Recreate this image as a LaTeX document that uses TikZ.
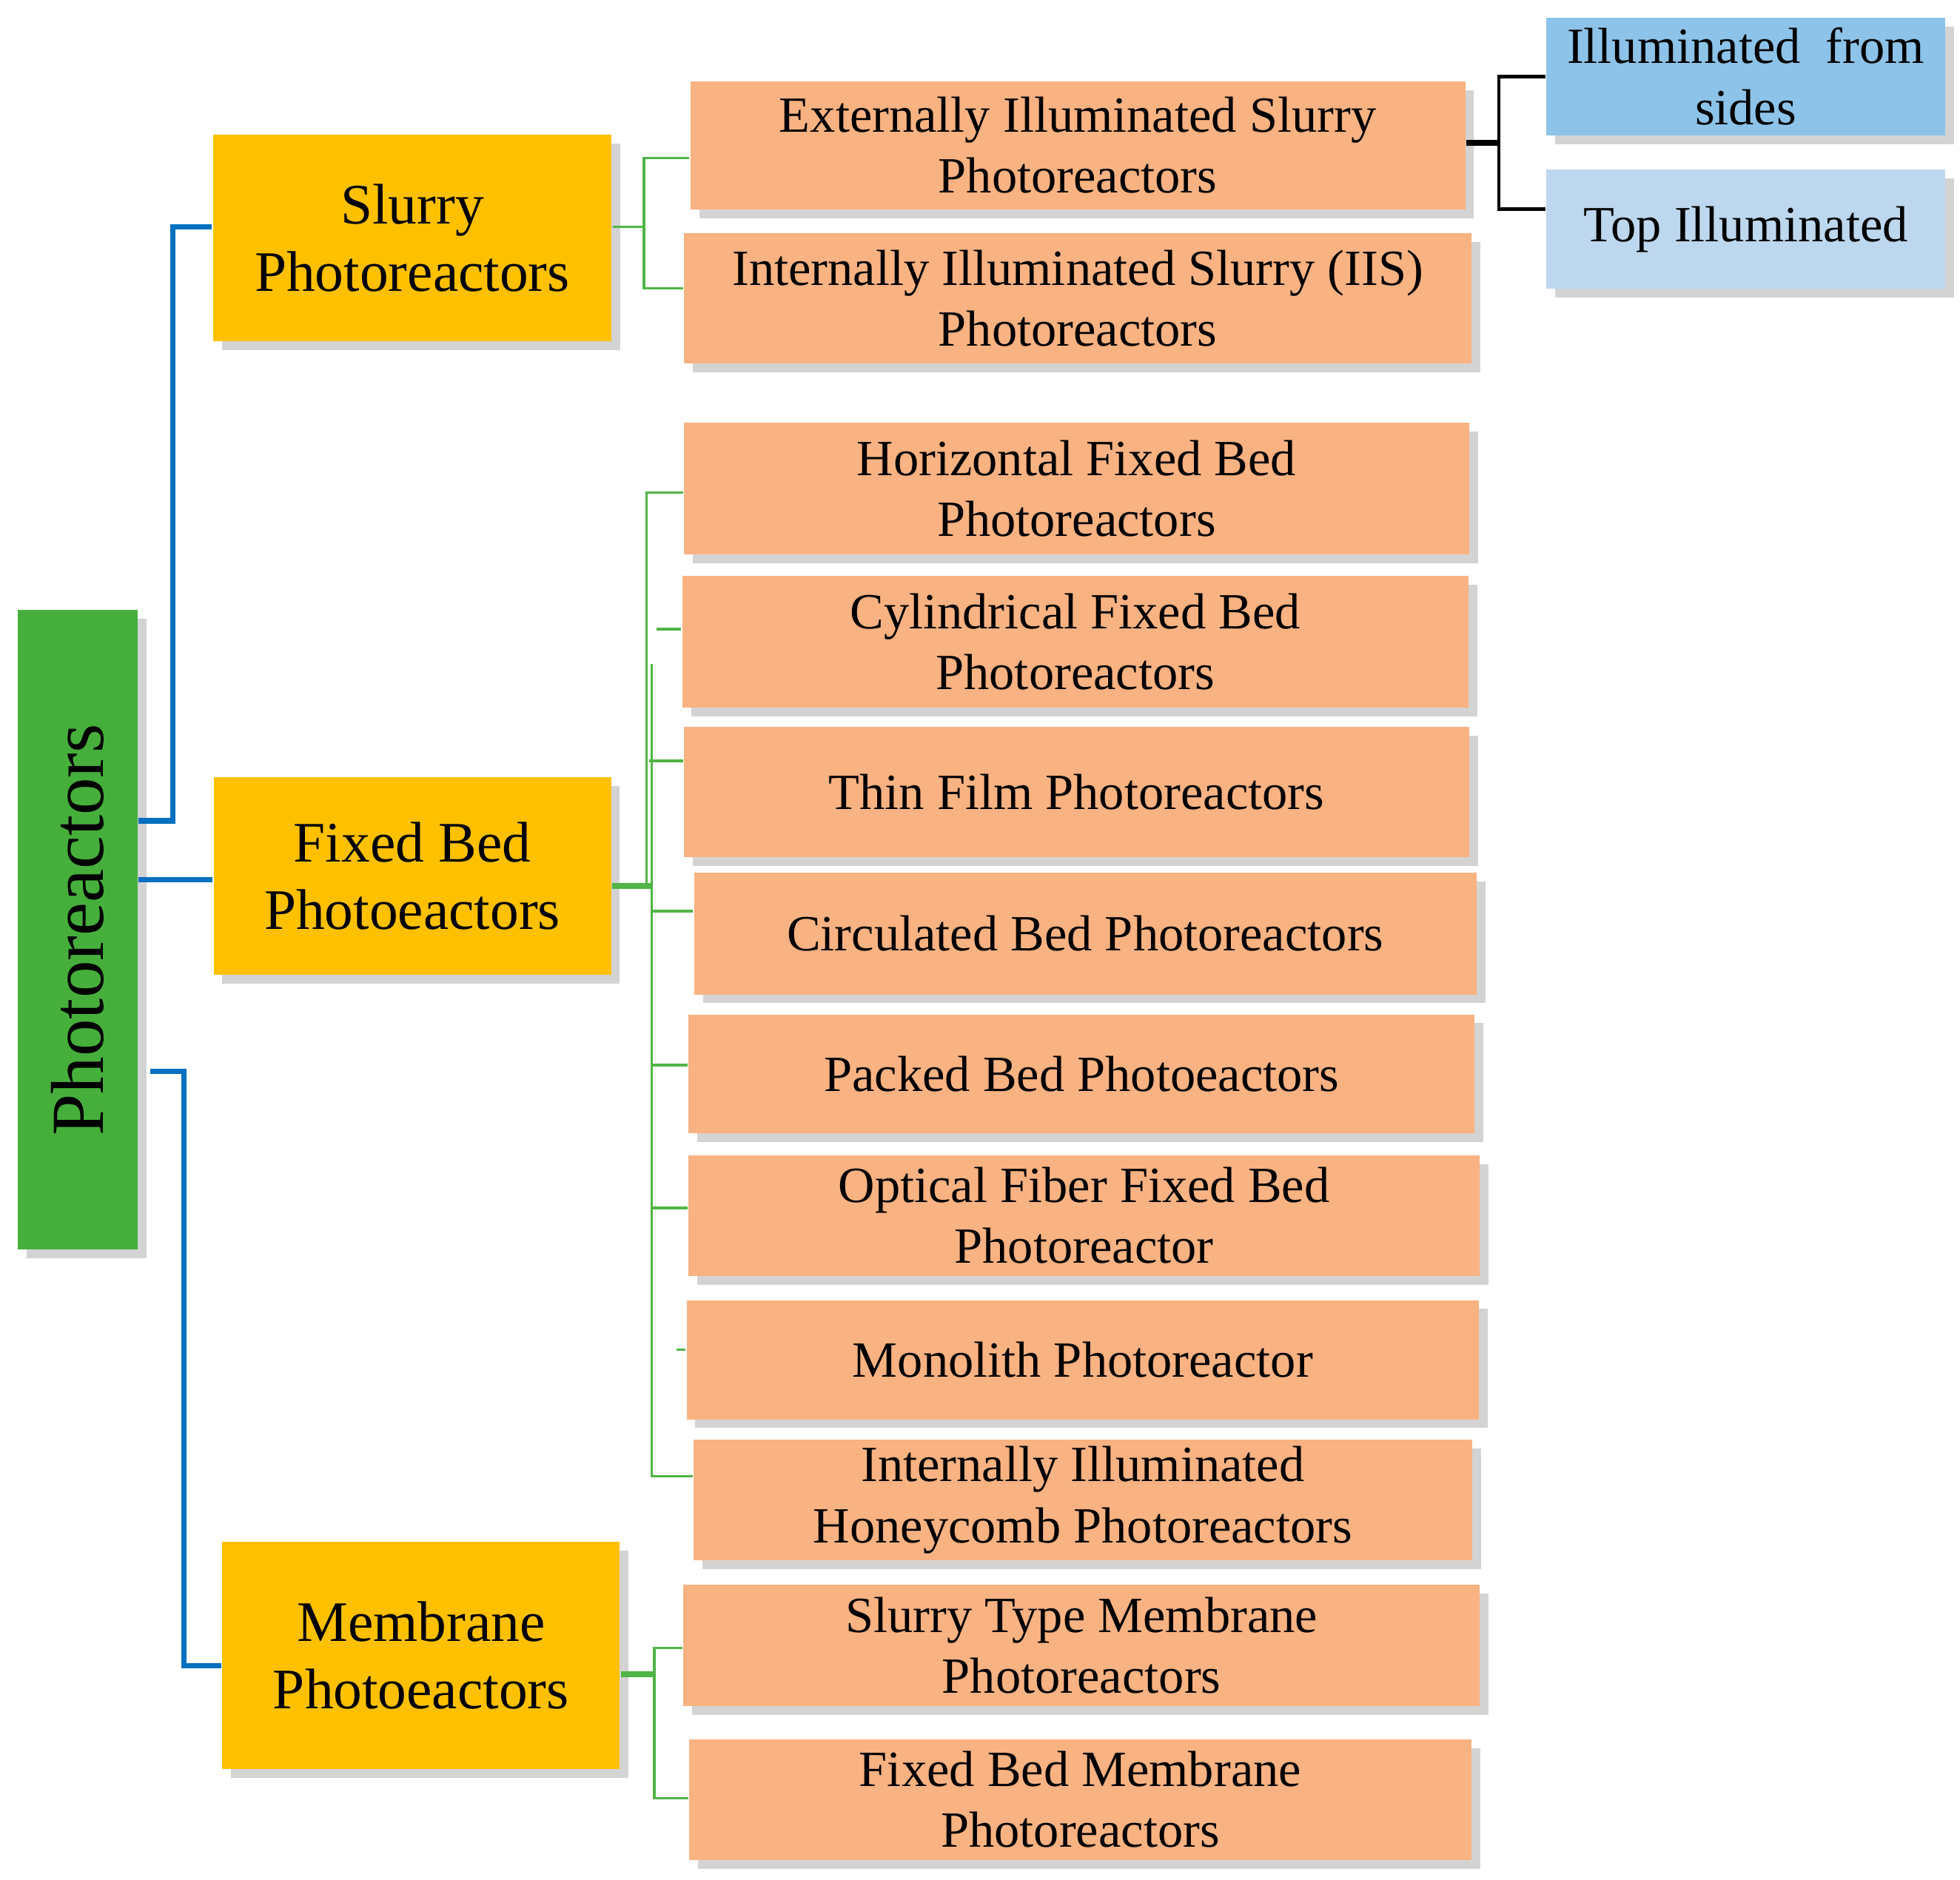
\documentclass[tikz,border=0pt]{standalone}
\usepackage{fontspec}
\setmainfont{Liberation Serif}
\usetikzlibrary{shadows}
\begin{document}
\begin{tikzpicture}[x=0.01cm,y=-0.01cm,
 base/.style={draw=none,align=center,inner sep=1pt,drop shadow={shadow xshift=2pt,shadow yshift=-2pt,opacity=0.35}},
 orange/.style={base,fill={rgb,255:red,249;green,178;blue,129},font=\fontsize{11.5}{13.8}\selectfont},
 yellow/.style={base,fill={rgb,255:red,255;green,192;blue,0},font=\fontsize{13}{15.3}\selectfont},
 blu/.style={base,font=\fontsize{11.5}{13.8}\selectfont},
 bl/.style={draw={rgb,255:red,0;green,112;blue,192},line width=1.2pt},
 gr/.style={draw={rgb,255:red,80;green,180;blue,70},line width=0.6pt},
 bk/.style={draw=black,line width=0.8pt}]
\useasboundingbox (0,0) rectangle (1564,1500);
\node[base,fill={rgb,255:red,70;green,175;blue,60},minimum width=0.96cm,minimum height=5.1cm] (P) at (62,742) {};
\node[rotate=90,font=\fontsize{17}{20}\selectfont] at (62,742) {Photoreactors};
\node[yellow,minimum width=3.18cm,minimum height=1.65cm] (S) at (329,190) {Slurry\\Photoreactors};
\node[yellow,minimum width=3.17cm,minimum height=1.58cm] (F) at (329,699) {Fixed Bed\\Photoeactors};
\node[yellow,minimum width=3.17cm,minimum height=1.81cm] (M) at (336,1321) {Membrane\\Photoeactors};
\node[orange,minimum width=6.18cm,minimum height=1.02cm] (a1) at (860,116) {Externally Illuminated Slurry\\Photoreactors};
\node[orange,minimum width=6.28cm,minimum height=1.04cm] (a2) at (860,238) {Internally Illuminated Slurry (IIS)\\Photoreactors};
\node[orange,minimum width=6.26cm,minimum height=1.05cm] (b1) at (859,390) {Horizontal Fixed Bed\\Photoreactors};
\node[orange,minimum width=6.27cm,minimum height=1.05cm] (b2) at (858,512) {Cylindrical Fixed Bed\\Photoreactors};
\node[orange,minimum width=6.26cm,minimum height=1.04cm] (b3) at (859,632) {Thin Film Photoreactors};
\node[orange,minimum width=6.24cm,minimum height=0.97cm] (b4) at (866,745) {Circulated Bed Photoreactors};
\node[orange,minimum width=6.27cm,minimum height=0.95cm] (b5) at (863,857) {Packed Bed Photoeactors};
\node[orange,minimum width=6.31cm,minimum height=0.96cm] (b6) at (865,970) {Optical Fiber Fixed Bed\\Photoreactor};
\node[orange,minimum width=6.32cm,minimum height=0.95cm] (b7) at (864,1085) {Monolith Photoreactor};
\node[orange,minimum width=6.21cm,minimum height=0.96cm] (b8) at (864,1197) {Internally Illuminated\\Honeycomb Photoreactors};
\node[orange,minimum width=6.35cm,minimum height=0.97cm] (c1) at (863,1313) {Slurry Type Membrane\\Photoreactors};
\node[orange,minimum width=6.24cm,minimum height=0.96cm] (c2) at (862,1436) {Fixed Bed Membrane\\Photoreactors};
\node[blu,fill={rgb,255:red,141;green,195;blue,232},minimum width=3.18cm,minimum height=0.94cm] (t1) at (1393,61) {Illuminated\ \ from\\sides};
\node[blu,fill={rgb,255:red,189;green,215;blue,238},minimum width=3.18cm,minimum height=0.95cm] (t2) at (1393,183) {Top Illuminated};
% blue connectors
\draw[bl] (P.east|-0,655) -- (138,655) -- (138,181) -- (S.west|-0,181);
\draw[bl] (P.east|-0,702) -- (F.west|-0,702);
\draw[bl] (120,855) -- (147,855) -- (147,1329) -- (M.west|-0,1329);
% green
\draw[gr] (S.east|-0,181) -- (514,181);
\draw[gr] (a1.west|-0,126) -- (514,126) -- (514,230) -- (a2.west|-0,230);
\draw[gr,line width=1.2pt] (F.east|-0,707) -- (520,707);
\draw[gr] (b1.west|-0,393) -- (516,393) -- (516,707);
\draw[gr] (520,530) -- (520,1178) -- (b8.west|-0,1178);
\draw[gr] (b2.west|-0,502) -- (524,502);
\draw[gr] (b3.west|-0,607) -- (518,607);
\draw[gr] (b4.west|-0,727) -- (520,727);
\draw[gr] (b5.west|-0,850) -- (520,850);
\draw[gr] (b6.west|-0,964) -- (520,964);
\draw[gr] (b7.west|-0,1077) -- (540,1077);
\draw[gr,line width=1.2pt] (M.east|-0,1336) -- (522,1336);
\draw[gr] (c1.west|-0,1315) -- (522,1315) -- (522,1435) -- (c2.west|-0,1435);
% black
\draw[bk,line width=1.2pt] (a1.east|-0,114) -- (1196,114);
\draw[bk] (t1.west|-0,61) -- (1196,61) -- (1196,167) -- (t2.west|-0,167);
\end{tikzpicture}
\end{document}
